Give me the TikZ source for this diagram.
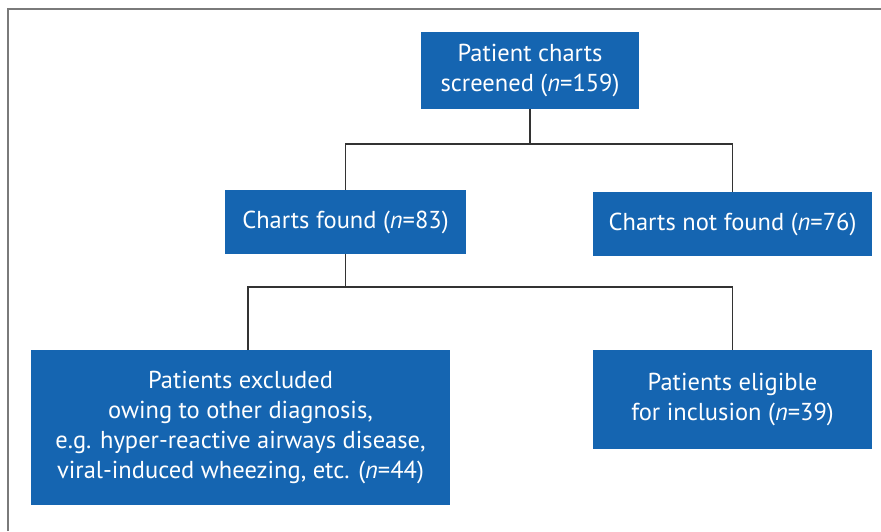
\documentclass[tikz,border=0pt]{standalone}
\usepackage{fontspec}
\setmainfont{PT Sans}
\definecolor{boxblue}{HTML}{1565B1}
\definecolor{linegray}{HTML}{333333}
\definecolor{framegray}{HTML}{7A7A7A}
\begin{document}
\begin{tikzpicture}[x=1pt,y=-1pt,
  box/.style={rectangle, fill=boxblue, text=white, inner sep=0pt, align=center,
    font=\fontsize{24.5}{30}\selectfont},
  conn/.style={draw=linegray, line width=1.6pt}]
\useasboundingbox (0,0) rectangle (881,531);
\draw[framegray, line width=2pt] (7.5,531) -- (7.5,8.5) -- (881,8.5);
\node[box, minimum width=218pt, minimum height=77pt] (top) at (530,70.5) {Patient charts\\screened (\textit{n}=159)};
\node[box, minimum width=241pt, minimum height=64pt] (found) at (345.5,222) {Charts found (\textit{n}=83)};
\node[box, minimum width=279pt, minimum height=64pt] (notfound) at (732.5,224) {Charts not found (\textit{n}=76)};
\node[box, minimum width=419pt, minimum height=155pt] (excl) at (240.5,427.5) {Patients excluded\\owing to other diagnosis,\\e.g. hyper-reactive airways disease,\\viral-induced wheezing, etc. (\textit{n}=44)};
\node[box, minimum width=279pt, minimum height=99pt] (elig) at (732.5,399.5) {Patients eligible\\for inclusion (\textit{n}=39)};
\coordinate (j1) at (530,144);
\coordinate (j2) at (345.5,287);
\coordinate (e1) at (248,350);
\draw[conn] (top.south) -- (j1);
\draw[conn] (found.north) |- (j1) -| (notfound.north);
\draw[conn] (found.south) -- (j2);
\draw[conn] (e1) |- (j2) -| (elig.north);
\end{tikzpicture}
\end{document}
